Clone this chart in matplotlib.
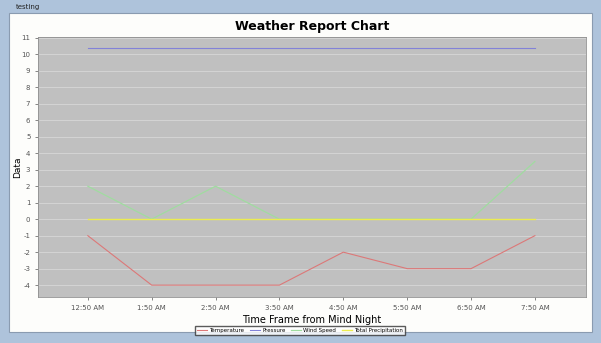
import matplotlib.pyplot as plt
from matplotlib.patches import Rectangle

plt.rcParams["axes.unicode_minus"] = False

times = ["12:50 AM", "1:50 AM", "2:50 AM", "3:50 AM", "4:50 AM", "5:50 AM", "6:50 AM", "7:50 AM"]
temperature = [-1, -4, -4, -4, -2, -3, -3, -1]
pressure = [10.4, 10.4, 10.4, 10.4, 10.4, 10.4, 10.4, 10.4]
wind_speed = [2, 0, 2, 0, 0, 0, 0, 3.5]
precipitation = [0, 0, 0, 0, 0, 0, 0, 0]

fig = plt.figure(figsize=(6.01, 3.43), dpi=100)
fig.patch.set_facecolor("#aec3db")

# window client area + title bar text
fig.patches.append(Rectangle((9 / 601, 11 / 343), 583 / 601, 319 / 343,
                             transform=fig.transFigure, facecolor="#fdfdfb",
                             edgecolor="#8a9bb0", linewidth=0.8, zorder=-10))
fig.text(16 / 601, 1 - 7 / 343, "testing", fontsize=5, va="center", color="#222222")

ax = fig.add_axes([38 / 601, 1 - 297 / 343, 548 / 601, 260 / 343])
ax.set_facecolor("#c0c0c0")

x = list(range(len(times)))
ax.plot(x, temperature, color="#dc7878", lw=0.8, label="Temperature")
ax.plot(x, pressure, color="#8282d8", lw=0.8, label="Pressure")
ax.plot(x, wind_speed, color="#a0dca0", lw=0.9, label="Wind Speed")
ax.plot(x, precipitation, color="#ecec50", lw=1.0, label="Total Precipitation")

ax.set_xlim(-0.78, 7.8)
ax.set_ylim(-4.72, 11.05)
ax.set_yticks(range(-4, 12))
ax.set_xticks(x)
ax.set_xticklabels(times)
ax.tick_params(labelsize=5, colors="#555555", length=2, width=0.5)
ax.grid(True, axis="y", color="#d4d4d4", lw=0.7)
ax.set_axisbelow(True)
for s in ax.spines.values():
    s.set_color("#909090")
    s.set_linewidth(0.6)

ax.set_title("Weather Report Chart", fontsize=9, fontweight="bold", pad=5)
ax.set_xlabel("Time Frame from Mind Night", fontsize=7, labelpad=3)
ax.set_ylabel("Data", fontsize=6.5)
ax.yaxis.set_label_coords(-0.029, 0.5)

ax.legend(loc="upper center", bbox_to_anchor=(0.478, -0.1), ncol=4, fontsize=4,
          frameon=True, fancybox=False, edgecolor="#333333", handlelength=1.8,
          columnspacing=1.0, borderpad=0.35, handletextpad=0.4)

fig.savefig("out.png", dpi=100, facecolor=fig.get_facecolor())
